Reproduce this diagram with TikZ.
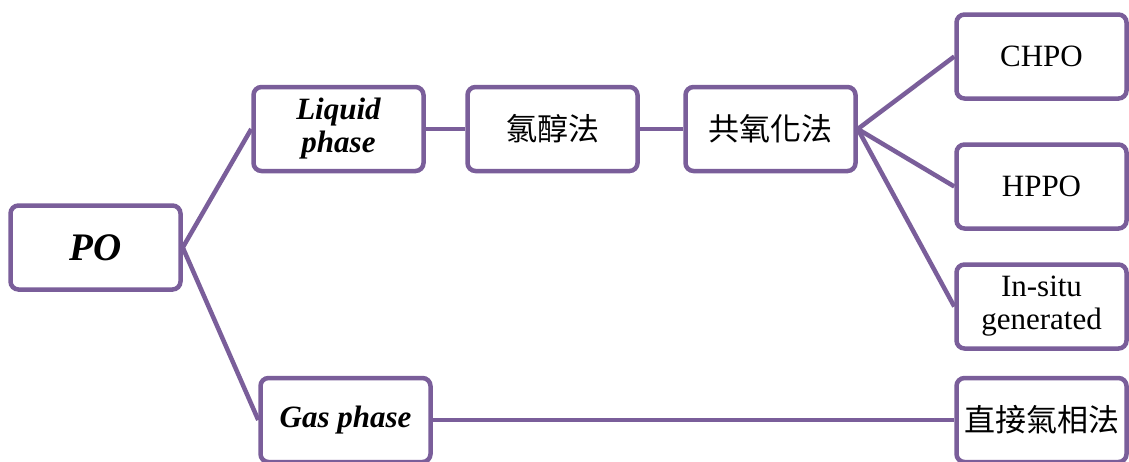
\documentclass[tikz,border=0pt]{standalone}
\usepackage{fontspec}
\setmainfont{Liberation Serif}
\newfontfamily\cjk{Noto Sans CJK TC}
\definecolor{boxpurple}{RGB}{122,94,154}
\begin{document}
\begin{tikzpicture}[x=1pt,y=-1pt,
  box/.style={draw=boxpurple, line width=4.5pt, rounded corners=8pt, fill=white,
    minimum width=170pt, minimum height=84pt, inner sep=2pt, align=center,
    font=\fontsize{31}{33}\selectfont},
  emph/.style={font=\fontsize{31}{33}\selectfont\bfseries\itshape},
  zh/.style={font=\fontsize{31}{33}\selectfont\cjk},
  conn/.style={draw=boxpurple, line width=4.5pt}]
\clip (0,0) rectangle (1129,461);
\fill[white] (0,0) rectangle (1129,461);
\node[box, font=\fontsize{39}{41}\selectfont\bfseries\itshape] (po) at (95.5,247.5) {PO};
\node[box, emph] (liq) at (338.5,129) {Liquid\\phase};
\node[box, zh] (lc) at (552.5,129) {氯醇法};
\node[box, zh] (gy) at (770.5,129) {共氧化法};
\node[box] (chpo) at (1041.5,56.5) {CHPO};
\node[box] (hppo) at (1041.5,186.5) {HPPO};
\node[box] (insitu) at (1041.5,306.5) {In-situ\\generated};
\node[box, emph] (gas) at (345.5,420) {Gas phase};
\node[box, zh] (zj) at (1041.5,420) {直接氣相法};
\draw[conn] (po.east) -- (liq.west);
\draw[conn] (po.east) -- (gas.west);
\draw[conn] (liq.east) -- (lc.west);
\draw[conn] (lc.east) -- (gy.west);
\draw[conn] (gy.east) -- (chpo.west);
\draw[conn] (gy.east) -- (hppo.west);
\draw[conn] (gy.east) -- (insitu.west);
\draw[conn] (gas.east) -- (zj.west);
\end{tikzpicture}
\end{document}
